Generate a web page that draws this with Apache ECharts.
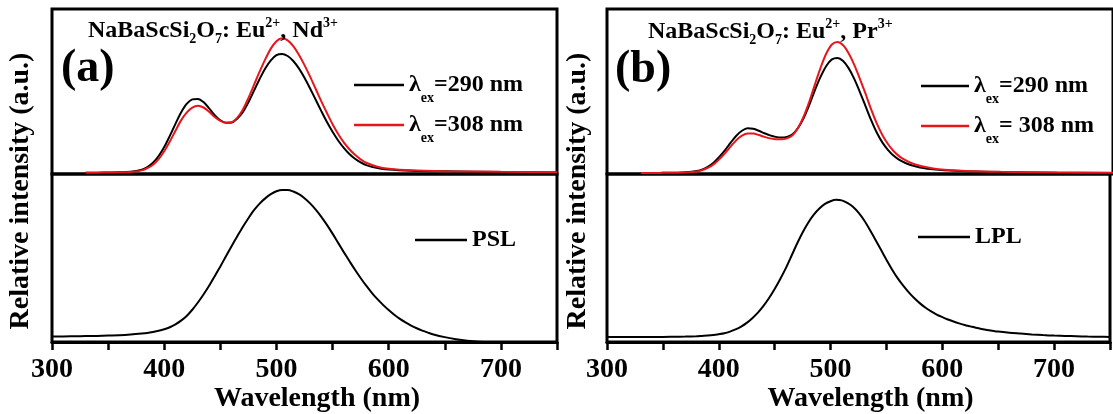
<!DOCTYPE html>
<html><head><meta charset="utf-8">
<script src="https://cdn.jsdelivr.net/npm/echarts@6/dist/echarts.min.js"></script>
<style>html,body{margin:0;padding:0;background:#fff}#c{width:1113px;height:414px}</style>
</head><body><div id="c"></div>
<script>
// ---- data ----
const wlTop = [330,340,350,360,370,380,385,390,395,400,405,410,415,420,425,430,435,440,445,450,455,460,465,470,475,480,485,490,495,500,505,510,515,520,525,530,535,540,545,550,555,560,565,570,575,580,590,600,620,650,700,750];
const blackTopA = [.008,.008,.009,.010,.013,.026,.042,.068,.108,.163,.231,.304,.373,.425,.452,.455,.436,.398,.357,.326,.311,.312,.335,.374,.434,.505,.576,.64,.689,.72,.728,.715,.685,.64,.583,.518,.45,.381,.315,.256,.203,.158,.121,.092,.07,.054,.036,.027,.02,.016,.012,.009];
const redTopA = [.008,.008,.009,.010,.012,.022,.035,.056,.09,.138,.197,.262,.325,.372,.402,.413,.403,.377,.346,.322,.31,.313,.34,.39,.46,.54,.62,.695,.76,.805,.822,.81,.775,.723,.66,.59,.515,.44,.37,.302,.243,.192,.15,.116,.089,.068,.044,.032,.022,.017,.013,.01];
const blackTopB = [.006,.006,.007,.008,.01,.018,.028,.045,.07,.105,.145,.19,.232,.262,.277,.274,.262,.247,.234,.225,.221,.225,.24,.28,.34,.42,.51,.59,.655,.695,.703,.685,.64,.575,.495,.41,.325,.25,.19,.145,.11,.085,.068,.055,.046,.038,.028,.022,.016,.012,.008,.006];
const redTopB = [.006,.006,.007,.008,.009,.015,.024,.038,.06,.09,.127,.167,.205,.232,.246,.245,.236,.225,.216,.211,.21,.216,.235,.28,.35,.44,.545,.645,.73,.785,.8,.78,.73,.66,.575,.485,.39,.305,.235,.18,.138,.107,.085,.068,.056,.047,.034,.026,.018,.013,.009,.007];
const wlBottom = [300,310,320,330,340,350,360,370,380,385,390,395,400,405,410,415,420,425,430,435,440,445,450,455,460,465,470,475,480,485,490,495,500,505,510,515,520,525,530,535,540,545,550,555,560,565,570,575,580,585,590,595,600,605,610,615,620,625,630,635,640,650,660,670,680,690,700,710,720,730,740,750];
const psl = [.033,.033,.034,.035,.036,.038,.04,.044,.05,.054,.06,.067,.076,.088,.105,.127,.155,.192,.235,.283,.335,.392,.45,.51,.57,.628,.685,.737,.785,.824,.855,.88,.897,.905,.905,.896,.88,.856,.825,.788,.745,.697,.645,.59,.535,.482,.43,.381,.335,.293,.255,.221,.19,.162,.138,.117,.098,.082,.068,.056,.045,.029,.017,.008,.002,0,0,0,0,0,0,0];
const lpl = [.03,.03,.03,.03,.03,.03,.031,.032,.034,.036,.038,.041,.046,.052,.062,.075,.092,.114,.142,.175,.215,.262,.315,.375,.44,.512,.585,.652,.71,.758,.795,.822,.838,.846,.843,.828,.805,.77,.725,.67,.61,.55,.49,.432,.38,.335,.295,.26,.23,.204,.182,.163,.148,.134,.122,.111,.101,.093,.085,.078,.072,.062,.055,.05,.045,.041,.038,.036,.034,.032,.031,.03];
const xTickLabels = [300,400,500,600,700];
const legendLabels = {
  a290: '{m|λ}{s|ex}{m|=290 nm}', a308: '{m|λ}{s|ex}{m|=308 nm}',
  b290: '{m|λ}{s|ex}{m|=290 nm}', b308: '{m|λ}{s|ex}{m|= 308 nm}',
  PSL: '{p|PSL}', LPL: '{p|LPL}'
};

// ---- chart ----
const F = 'Liberation Serif';
const pairs = (xs, ys) => xs.map((x, i) => [x, ys[i]]);
const chart = echarts.init(document.getElementById('c'));
const gridBase = {show: true, borderColor: '#000', borderWidth: 3, backgroundColor: 'transparent'};
const rich = {
  m: {fontFamily: F, fontWeight: 'bold', fontSize: 24, lineHeight: 40, verticalAlign: 'middle', color: '#000'},
  s: {fontFamily: F, fontWeight: 'bold', fontSize: 14, verticalAlign: 'top', padding: [26, 0, 0, 0], color: '#000'},
  p: {fontFamily: F, fontWeight: 'bold', fontSize: 24, lineHeight: 24, color: '#000'}
};
const annRich = {
  m: {fontFamily: F, fontWeight: 'bold', fontSize: 24, lineHeight: 30, verticalAlign: 'middle', color: '#000'},
  s: {fontFamily: F, fontWeight: 'bold', fontSize: 14, verticalAlign: 'bottom', color: '#000'},
  p: {fontFamily: F, fontWeight: 'bold', fontSize: 14, verticalAlign: 'top', color: '#000'}
};
function bottomX(gi, shift) {
  return {
    gridIndex: gi, type: 'value', min: 300, max: 750, interval: 50,
    axisLine: {lineStyle: {color: '#000', width: 3}},
    axisTick: {length: 8, lineStyle: {color: '#000', width: 2.5}},
    axisLabel: {formatter: v => xTickLabels.indexOf(v) >= 0 ? String(v) : '', color: '#000', fontFamily: F, fontWeight: 'bold', fontSize: 28, margin: 14},
    splitLine: {show: false},
    name: 'Wavelength (nm)', nameLocation: 'middle', nameGap: 36,
    nameTextStyle: {color: '#000', fontFamily: F, fontWeight: 'bold', fontSize: 28, padding: [0, 0, 0, shift]}
  };
}
function line(name, xi, xs, ys, color) {
  return {name, type: 'line', xAxisIndex: xi, yAxisIndex: xi, data: pairs(xs, ys), smooth: 0.3,
    showSymbol: false, symbol: 'none', color, lineStyle: {color, width: 2}, silent: true};
}
function legend(names, left, top, w, gap) {
  return {data: names, left, top, orient: 'vertical', itemGap: gap, padding: 0, icon: 'rect',
    itemWidth: w, itemHeight: 2.5, selectedMode: false, formatter: n => legendLabels[n],
    textStyle: {rich}};
}
const RED = '#e8151b';
chart.setOption({
  animation: false,
  backgroundColor: '#fff',
  grid: [
    Object.assign({left: 52, top: 9, width: 505, height: 165}, gridBase),
    Object.assign({left: 52, top: 174, width: 505, height: 168}, gridBase),
    Object.assign({left: 607, top: 9, width: 510, height: 165}, gridBase),
    Object.assign({left: 607, top: 174, width: 510, height: 168}, gridBase)
  ],
  xAxis: [
    {gridIndex: 0, type: 'value', min: 300, max: 750, show: false},
    bottomX(1, 25),
    {gridIndex: 2, type: 'value', min: 300, max: 750, show: false},
    bottomX(3, 24)
  ],
  yAxis: [0, 1, 2, 3].map(i => ({gridIndex: i, type: 'value', min: 0, max: 1, show: false})),
  series: [
    line('a290', 0, wlTop, blackTopA, '#000'),
    line('a308', 0, wlTop, redTopA, RED),
    line('PSL', 1, wlBottom, psl, '#000'),
    line('b290', 2, wlTop, blackTopB, '#000'),
    line('b308', 2, wlTop, redTopB, RED),
    line('LPL', 3, wlBottom, lpl, '#000')
  ],
  legend: [
    legend(['a290', 'a308'], 354, 73, 50, 8),
    legend(['PSL'], 415, 228, 52, 0),
    legend(['b290', 'b308'], 921, 74, 48, 8),
    legend(['LPL'], 918, 225, 52, 0)
  ],
  title: [
    {text: '{m|NaBaScSi}{s|2}{m|O}{s|7}{m|: Eu}{p|2+}{m|, Nd}{p|3+}', left: 88, top: 16, padding: 0, textStyle: {rich: annRich}},
    {text: '{m|NaBaScSi}{s|2}{m|O}{s|7}{m|: Eu}{p|2+}{m|, Pr}{p|3+}', left: 648, top: 17, padding: 0, textStyle: {rich: annRich}},
    {text: '(a)', left: 61, top: 46, padding: 0, textStyle: {fontFamily: F, fontWeight: 'bold', fontSize: 46, lineHeight: 46, color: '#000'}},
    {text: '(b)', left: 615, top: 47, padding: 0, textStyle: {fontFamily: F, fontWeight: 'bold', fontSize: 46, lineHeight: 46, color: '#000'}}
  ],
  graphic: [
    {type: 'text', x: 20.5, y: 191, rotation: Math.PI / 2, style: {text: 'Relative intensity (a.u.)', font: 'bold 28px "Liberation Serif"', fill: '#000', align: 'center', verticalAlign: 'middle', textAlign: 'center', textVerticalAlign: 'middle'}},
    {type: 'text', x: 578, y: 191, rotation: Math.PI / 2, style: {text: 'Relative intensity (a.u.)', font: 'bold 28px "Liberation Serif"', fill: '#000', align: 'center', verticalAlign: 'middle', textAlign: 'center', textVerticalAlign: 'middle'}}
  ]
});
</script>
</body></html>
